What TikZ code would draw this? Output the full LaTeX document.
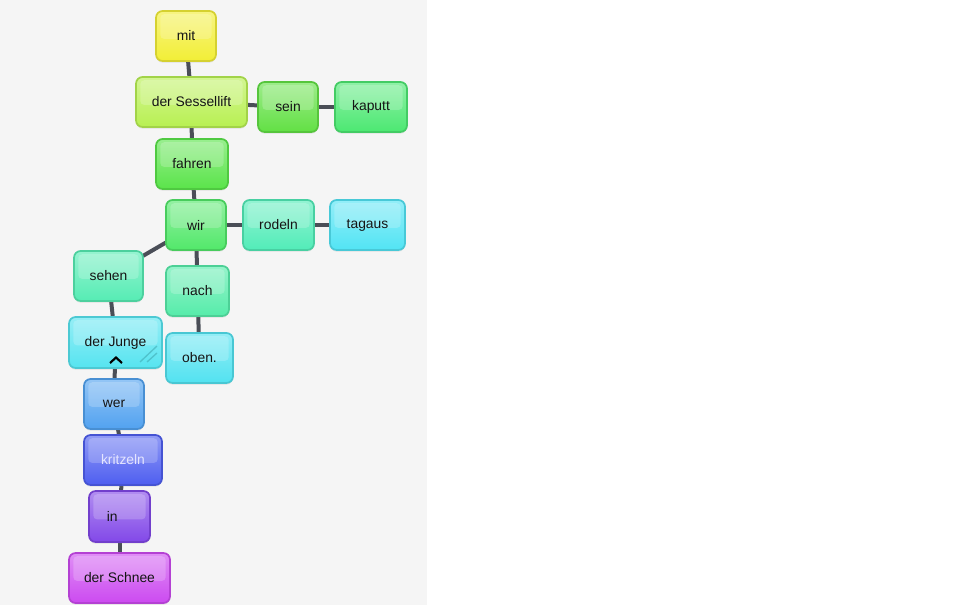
\documentclass[tikz,border=0pt]{standalone}
\usepackage{fontspec}
\setmainfont{Liberation Sans}
\usetikzlibrary{backgrounds,shadows}
\definecolor{cmit}{HTML}{F2EE36}
\definecolor{csess}{HTML}{B8F052}
\definecolor{csein}{HTML}{62E044}
\definecolor{ckap}{HTML}{4CE872}
\definecolor{cfahr}{HTML}{5AE44A}
\definecolor{cwir}{HTML}{52E86A}
\definecolor{crod}{HTML}{52ECB8}
\definecolor{ctag}{HTML}{52E4F4}
\definecolor{cseh}{HTML}{56ECB4}
\definecolor{cnach}{HTML}{56ECAA}
\definecolor{cjung}{HTML}{56E4F0}
\definecolor{coben}{HTML}{52E2F0}
\definecolor{cwer}{HTML}{52A2F0}
\definecolor{ckritz}{HTML}{4E5EF0}
\definecolor{cin}{HTML}{8248E8}
\definecolor{cschnee}{HTML}{CC4AF0}
\definecolor{edgec}{HTML}{4A4E57}
\definecolor{bgc}{HTML}{F5F5F5}
\tikzset{
  wb/.style={draw=#1!88!black, line width=1.3pt, rounded corners=5pt,
    top color=#1!62!white, bottom color=#1, inner sep=0pt,
    font=\fontsize{10.4pt}{12pt}\selectfont, text=black!92,
    drop shadow={opacity=0.18, shadow xshift=0pt, shadow yshift=-1.2pt},
    path picture={\fill[white, opacity=0.2, rounded corners=3pt]
      ([xshift=3.2pt,yshift=-2.4pt]path picture bounding box.north west) rectangle
      ([xshift=-3.2pt,yshift=-2.2pt]path picture bounding box.east);}},
  sz/.style 2 args={minimum width=#1*0.75pt, minimum height=#2*0.75pt},
  link/.style={draw=edgec, line width=3pt}
}
\begin{document}
\begin{tikzpicture}[x=0.75pt,y=-0.75pt]
\useasboundingbox (0,0) rectangle (960,605);
% nodes
\node[wb=cmit, sz={60}{50}] (mit) at (186,36) {mit};
\node[wb=csess, sz={111}{50}] (sess) at (191.5,102) {der Sessellift};
\node[wb=csein, sz={60}{50}] (sein) at (288,107) {sein};
\node[wb=ckap, sz={72}{50}] (kap) at (371,107) {kaputt};
\node[wb=cfahr, sz={72}{50}] (fahr) at (192,164) {fahren};
\node[wb=cwir, sz={60}{50}] (wir) at (196,225) {wir};
\node[wb=crod, sz={71}{50}] (rod) at (278.5,225) {rodeln};
\node[wb=ctag, sz={75}{50}] (tag) at (367.5,225) {tagaus};
\node[wb=cseh, sz={69}{50}] (seh) at (108.5,276) {sehen};
\node[wb=cnach, sz={63}{50}] (nach) at (197.5,291) {nach};
\node[wb=cjung, sz={93}{51}] (jung) at (115.5,342.5) {der Junge};
\node[wb=coben, sz={67}{50}] (oben) at (199.5,358) {oben.};
\node[wb=cwer, sz={60}{50}] (wer) at (114,404) {wer};
\node[wb=ckritz, sz={78}{50}, text=white!90!blue] (kritz) at (123,460) {kritzeln};
\node[wb=cin, sz={61}{51}] (in) at (119.5,516.5) {in\kern11pt};
\node[wb=cschnee, sz={101}{50}] (schnee) at (119.5,578) {der Schnee};
% caret and resize mark on "der Junge"
\draw[line width=1.6pt, black] (110,363) -- (116,357.5) -- (122,363);
\draw[line width=1pt, cjung!75!black, opacity=0.6] (140,362) -- (157,346) (147,362) -- (157,353);
% background and connectors
\begin{scope}[on background layer]
\fill[bgc] (0,0) rectangle (427,605);
\draw[link] (mit.center) -- (sess.center);
\draw[link] (sess.center) -- (sein.center);
\draw[link] (sein.center) -- (kap.center);
\draw[link] (sess.center) -- (fahr.center);
\draw[link] (fahr.center) -- (wir.center);
\draw[link] (wir.center) -- (rod.center);
\draw[link] (rod.center) -- (tag.center);
\draw[link] (wir.center) -- (seh.center);
\draw[link] (wir.center) -- (nach.center);
\draw[link] (nach.center) -- (oben.center);
\draw[link] (seh.center) -- (jung.center);
\draw[link] (jung.center) -- (wer.center);
\draw[link] (wer.center) -- (kritz.center);
\draw[link] (kritz.center) -- (in.center);
\draw[link] (in.center) -- (schnee.center);
\end{scope}
\end{tikzpicture}
\end{document}
